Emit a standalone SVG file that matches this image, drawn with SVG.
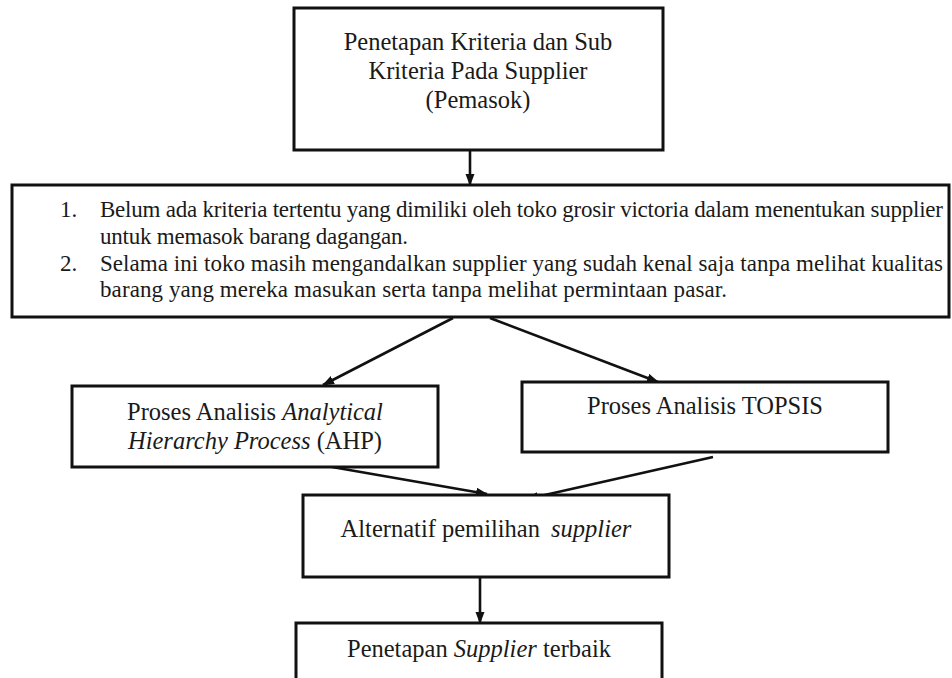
<svg xmlns="http://www.w3.org/2000/svg" width="952" height="678" viewBox="0 0 952 678">
<style>
.box{fill:#fff;stroke:#111;stroke-width:3}
.t{font-family:"Liberation Serif","Times New Roman",serif;font-size:24.5px;fill:#1a1a1a}
.m{text-anchor:middle}
.s{font-family:"Liberation Serif","Times New Roman",serif;font-size:23px;fill:#1a1a1a}
.c{stroke:#111;stroke-width:2.6;fill:none}
</style>
<defs>
<marker id="ah" markerUnits="userSpaceOnUse" markerWidth="13" markerHeight="11" refX="11" refY="4.5" orient="auto">
<path d="M0,0 L12,4.5 L0,9 z" fill="#111"/>
</marker>
</defs>
<rect width="952" height="678" fill="#fff"/>
<g id="connectors">
<line class="c" x1="470" y1="150" x2="470" y2="185" marker-end="url(#ah)"/>
<line class="c" x1="453" y1="318" x2="323" y2="385" marker-end="url(#ah)"/>
<line class="c" x1="490" y1="318" x2="658" y2="382" marker-end="url(#ah)"/>
<line class="c" x1="332" y1="467" x2="487" y2="494" marker-end="url(#ah)"/>
<line class="c" x1="713" y1="457" x2="527" y2="499" marker-end="url(#ah)"/>
<line class="c" x1="480" y1="577" x2="480" y2="623" marker-end="url(#ah)"/>
</g>
<g id="n1">
<rect class="box" x="294" y="8" width="369" height="142"/>
<text class="t m" x="478" y="50">Penetapan Kriteria dan Sub</text>
<text class="t m" x="478" y="79">Kriteria Pada Supplier</text>
<text class="t m" x="478" y="108">(Pemasok)</text>
</g>
<g id="n2">
<rect class="box" x="12" y="185" width="937" height="132"/>
<text class="s" x="60" y="217">1.</text>
<text class="s" x="100" y="217" textLength="843">Belum ada kriteria tertentu yang dimiliki oleh toko grosir victoria dalam menentukan supplier</text>
<text class="s" x="100" y="244" textLength="308">untuk memasok barang dagangan.</text>
<text class="s" x="60" y="271">2.</text>
<text class="s" x="100" y="271" textLength="843">Selama ini toko masih mengandalkan supplier yang sudah kenal saja tanpa melihat kualitas</text>
<text class="s" x="100" y="297" textLength="627">barang yang mereka masukan serta tanpa melihat permintaan pasar.</text>
</g>
<g id="n3">
<rect class="box" x="72" y="386" width="366" height="81"/>
<text class="t m" x="255" y="420">Proses Analisis <tspan font-style="italic">Analytical</tspan></text>
<text class="t m" x="255" y="449"><tspan font-style="italic">Hierarchy Process</tspan> (AHP)</text>
</g>
<g id="n4">
<rect class="box" x="522" y="382" width="366" height="70"/>
<text class="t m" x="705" y="414">Proses Analisis TOPSIS</text>
</g>
<g id="n5">
<rect class="box" x="303" y="495" width="366" height="82"/>
<text class="t m" x="486" y="537">Alternatif pemilihan <tspan font-style="italic" dx="5">supplier</tspan></text>
</g>
<g id="n6">
<rect class="box" x="296" y="623" width="366" height="70"/>
<text class="t m" x="479" y="657">Penetapan <tspan font-style="italic">Supplier</tspan> terbaik</text>
</g>
</svg>
